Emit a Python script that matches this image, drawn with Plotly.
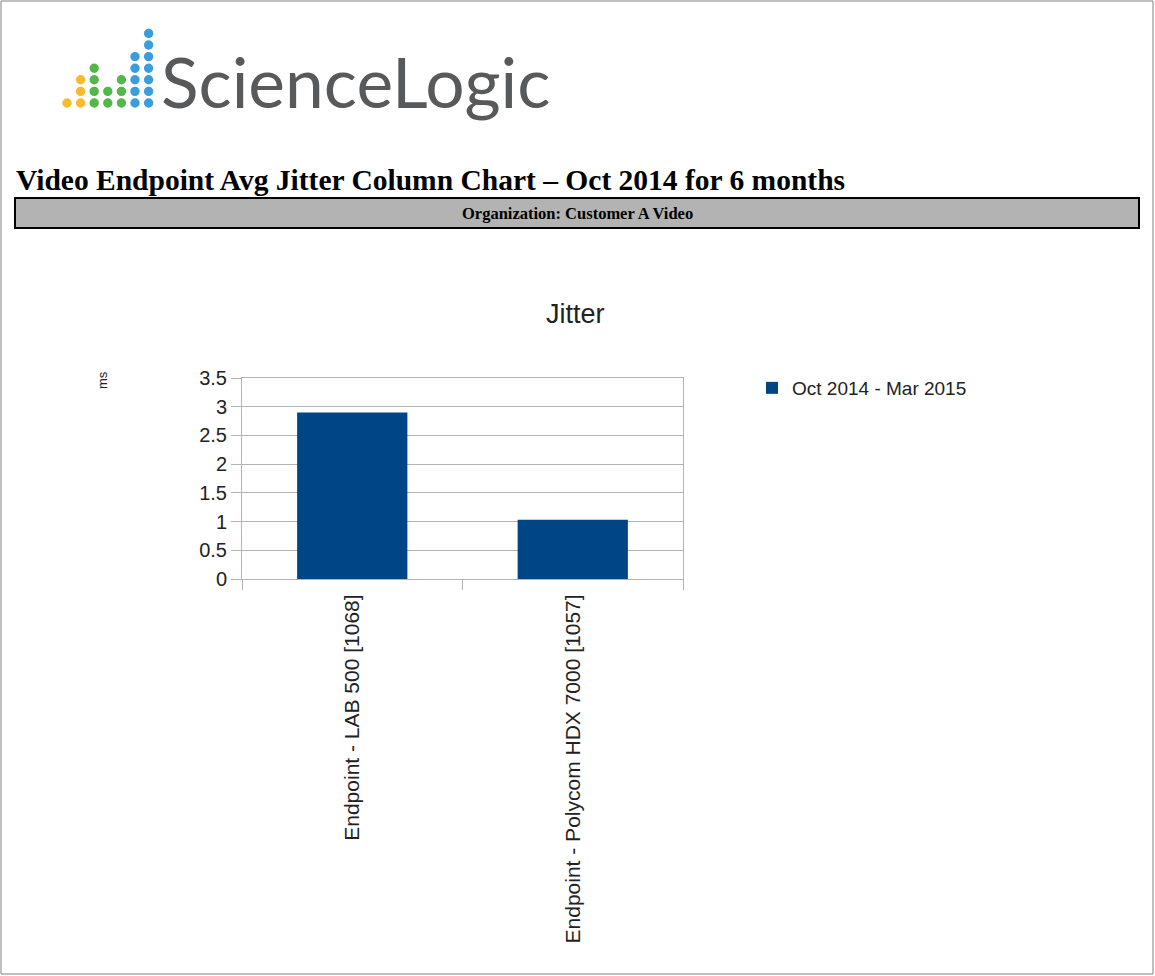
import plotly.graph_objects as go

categories = ["Endpoint - LAB 500 [1068]", "Endpoint - Polycom HDX 7000 [1057]"]
jitter_ms = [2.9, 1.03]
series_name = "Oct 2014 - Mar 2015"
y_ticks = [0, 0.5, 1, 1.5, 2, 2.5, 3, 3.5]
y_tick_labels = ["0", "0.5", "1", "1.5", "2", "2.5", "3", "3.5"]

logo_heights = [1, 3, 4, 2, 3, 5, 7]
logo_colors = ["#f9bb2b", "#f9bb2b", "#52b848", "#52b848", "#52b848", "#3b9ddd", "#3b9ddd"]

W, H = 1155, 976
L, R, T, B = 242, 683, 378, 579


def px(xp):
    return (xp - L) / (R - L)


def py(yp):
    return (B - yp) / (B - T)


fig = go.Figure()
fig.add_trace(go.Bar(
    x=categories, y=jitter_ms, name=series_name,
    marker=dict(color="#004586", line=dict(width=0)),
    showlegend=True,
))

shapes = []
annotations = []

# page border
shapes.append(dict(type="rect", xref="paper", yref="paper",
                   x0=px(1), x1=px(W - 2), y0=py(1), y1=py(H - 2),
                   line=dict(color="#808080", width=1), fillcolor="rgba(0,0,0,0)", layer="below"))

# logo dots
for i, (h, c) in enumerate(zip(logo_heights, logo_colors)):
    cx = 67 + i * 13.6
    for j in range(h):
        cy = 103 - j * 11.6
        r = 4.7
        shapes.append(dict(type="circle", xref="paper", yref="paper",
                           x0=px(cx - r), x1=px(cx + r), y0=py(cy - r), y1=py(cy + r),
                           fillcolor=c, line=dict(width=0)))

annotations.append(dict(text="ScienceLogic", xref="paper", yref="paper",
                        x=px(159), y=py(81), xanchor="left", yanchor="middle",
                        showarrow=False,
                        font=dict(family="Lato", size=69.5, color="#58595b")))

# report title
annotations.append(dict(text="<b>Video Endpoint Avg Jitter Column Chart \u2013 Oct 2014 for 6 months</b>",
                        xref="paper", yref="paper", x=px(14), y=py(180),
                        xanchor="left", yanchor="middle", showarrow=False,
                        font=dict(family="Liberation Serif", size=29.5, color="#000000")))

# organization bar
shapes.append(dict(type="rect", xref="paper", yref="paper",
                   x0=px(15), x1=px(1139), y0=py(198), y1=py(228),
                   fillcolor="#b3b3b3", line=dict(color="#000000", width=2)))
annotations.append(dict(text="<b>Organization: Customer A Video</b>",
                        xref="paper", yref="paper", x=px(577), y=py(213),
                        xanchor="center", yanchor="middle", showarrow=False,
                        font=dict(family="Liberation Serif", size=16.5, color="#000000")))

# chart title
annotations.append(dict(text="Jitter", xref="paper", yref="paper",
                        x=px(575), y=py(314), xanchor="center", yanchor="middle",
                        showarrow=False,
                        font=dict(family="Liberation Sans", size=27, color="#222222")))

# y axis unit
annotations.append(dict(text="ms", xref="paper", yref="paper",
                        x=px(102), y=py(380), xanchor="center", yanchor="middle",
                        textangle=-90, showarrow=False,
                        font=dict(family="Liberation Sans", size=13, color="#222222")))

fig.update_layout(
    width=W, height=H,
    margin=dict(l=L, r=W - R, t=T, b=H - B, autoexpand=False),
    paper_bgcolor="white", plot_bgcolor="white",
    font=dict(family="Liberation Sans", size=18, color="#222222"),
    bargap=0.5,
    shapes=shapes, annotations=annotations,
    legend=dict(x=px(752), y=py(369), xanchor="left", yanchor="top",
                font=dict(family="Liberation Sans", size=19, color="#222222"),
                bgcolor="rgba(0,0,0,0)"),
    xaxis=dict(type="category", tickangle=-90, showgrid=False,
               tickson="boundaries", ticks="outside", ticklen=10, tickcolor="#b3b3b3",
               ticklabelstandoff=6,
               showline=True, linecolor="#b3b3b3", mirror=True,
               tickfont=dict(family="Liberation Sans", size=21, color="#222222")),
    yaxis=dict(range=[0, 3.5], tickvals=y_ticks, ticktext=y_tick_labels,
               showgrid=True, gridcolor="#b3b3b3", gridwidth=1,
               ticks="outside", ticklen=10, tickcolor="#b3b3b3",
               showline=True, linecolor="#b3b3b3", mirror=True, zeroline=False,
               tickfont=dict(family="Liberation Sans", size=20, color="#222222")),
)

fig.write_html("out.html", config={"displayModeBar": False},
               post_script="document.body.style.margin='0';document.body.style.overflow='hidden';")
